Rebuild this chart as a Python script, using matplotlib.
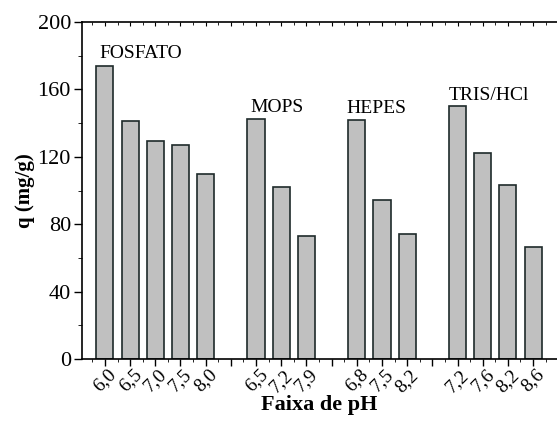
import matplotlib.pyplot as plt
from matplotlib.ticker import MultipleLocator

plt.rcParams['font.family'] = ['Liberation Serif', 'DejaVu Serif']

# dados
tampoes = ["FOSFATO", "MOPS", "HEPES", "TRIS/HCl"]
ph_fosfato = ["6,0", "6,5", "7,0", "7,5", "8,0"]
q_fosfato = [174, 141, 129.5, 127, 110]
ph_mops = ["6,5", "7,2", "7,9"]
q_mops = [142.5, 102, 73]
ph_hepes = ["6,8", "7,5", "8,2"]
q_hepes = [142, 94.5, 74]
ph_tris = ["7,2", "7,6", "8,2", "8,6"]
q_tris = [150, 122.5, 103, 66.5]

grupos = [(ph_fosfato, q_fosfato), (ph_mops, q_mops), (ph_hepes, q_hepes), (ph_tris, q_tris)]

fig = plt.figure(figsize=(5.57, 4.21), dpi=100)
ax = fig.add_axes([0.1472, 0.1473, 0.8528, 0.8004])

pos = []
rotulos = []
alturas = []
inicio_grupo = []
x = 1
for ph, q in grupos:
    inicio_grupo.append(x)
    for p, v in zip(ph, q):
        pos.append(x)
        rotulos.append(p)
        alturas.append(v)
        x += 1
    x += 1  # espaço entre grupos

ax.bar(pos, alturas, width=0.68, color="#c0c0c0", edgecolor="#1e2a2a", linewidth=1.2)

# rótulos dos tampões (deslocamento em x, altura da linha de base)
offs = [(-0.2, 178.5), (-0.24, 146.5), (-0.43, 146), (-0.34, 154)]
for nome, x0, (dx, y) in zip(tampoes, inicio_grupo, offs):
    ax.text(x0 + dx, y, nome, fontsize=14, ha="left", va="baseline")

todas = list(range(1, 19))
lab = []
for t in todas:
    lab.append(rotulos[pos.index(t)] if t in pos else "")
ax.set_xticks(todas)
ax.set_xticklabels(lab, rotation=45, ha="center", fontsize=14)
ax.xaxis.set_minor_locator(MultipleLocator(0.5))
ax.set_xlim(0.09, 18.95)
ax.set_ylim(0, 200)
ax.yaxis.set_major_locator(MultipleLocator(40))
ax.yaxis.set_minor_locator(MultipleLocator(20))
ax.tick_params(axis="y", which="major", labelsize=16, length=6, width=1, direction="out", pad=2)
ax.tick_params(axis="y", which="minor", length=3, direction="out")
ax.tick_params(axis="x", which="major", length=5, width=1, direction="out", pad=0)
ax.tick_params(axis="x", which="minor", length=2, direction="out")

# marcas internas no eixo superior
sec = ax.secondary_xaxis("top")
sec.set_xticks(todas)
sec.set_xticklabels([])
sec.xaxis.set_minor_locator(MultipleLocator(0.5))
sec.tick_params(which="major", direction="in", length=3, width=0.8)
sec.tick_params(which="minor", direction="in", length=2, width=0.6)
sec.spines["top"].set_linewidth(1.2)

ax.spines["right"].set_visible(False)
ax.spines["top"].set_visible(False)
for s in ["left", "bottom"]:
    ax.spines[s].set_linewidth(1.2)

ax.set_xlabel("Faixa de pH", fontsize=16, fontweight="bold", labelpad=0)
ax.set_ylabel("q (mg/g)", fontsize=15, fontweight="bold", labelpad=2)

fig.savefig("out.png", dpi=100)
